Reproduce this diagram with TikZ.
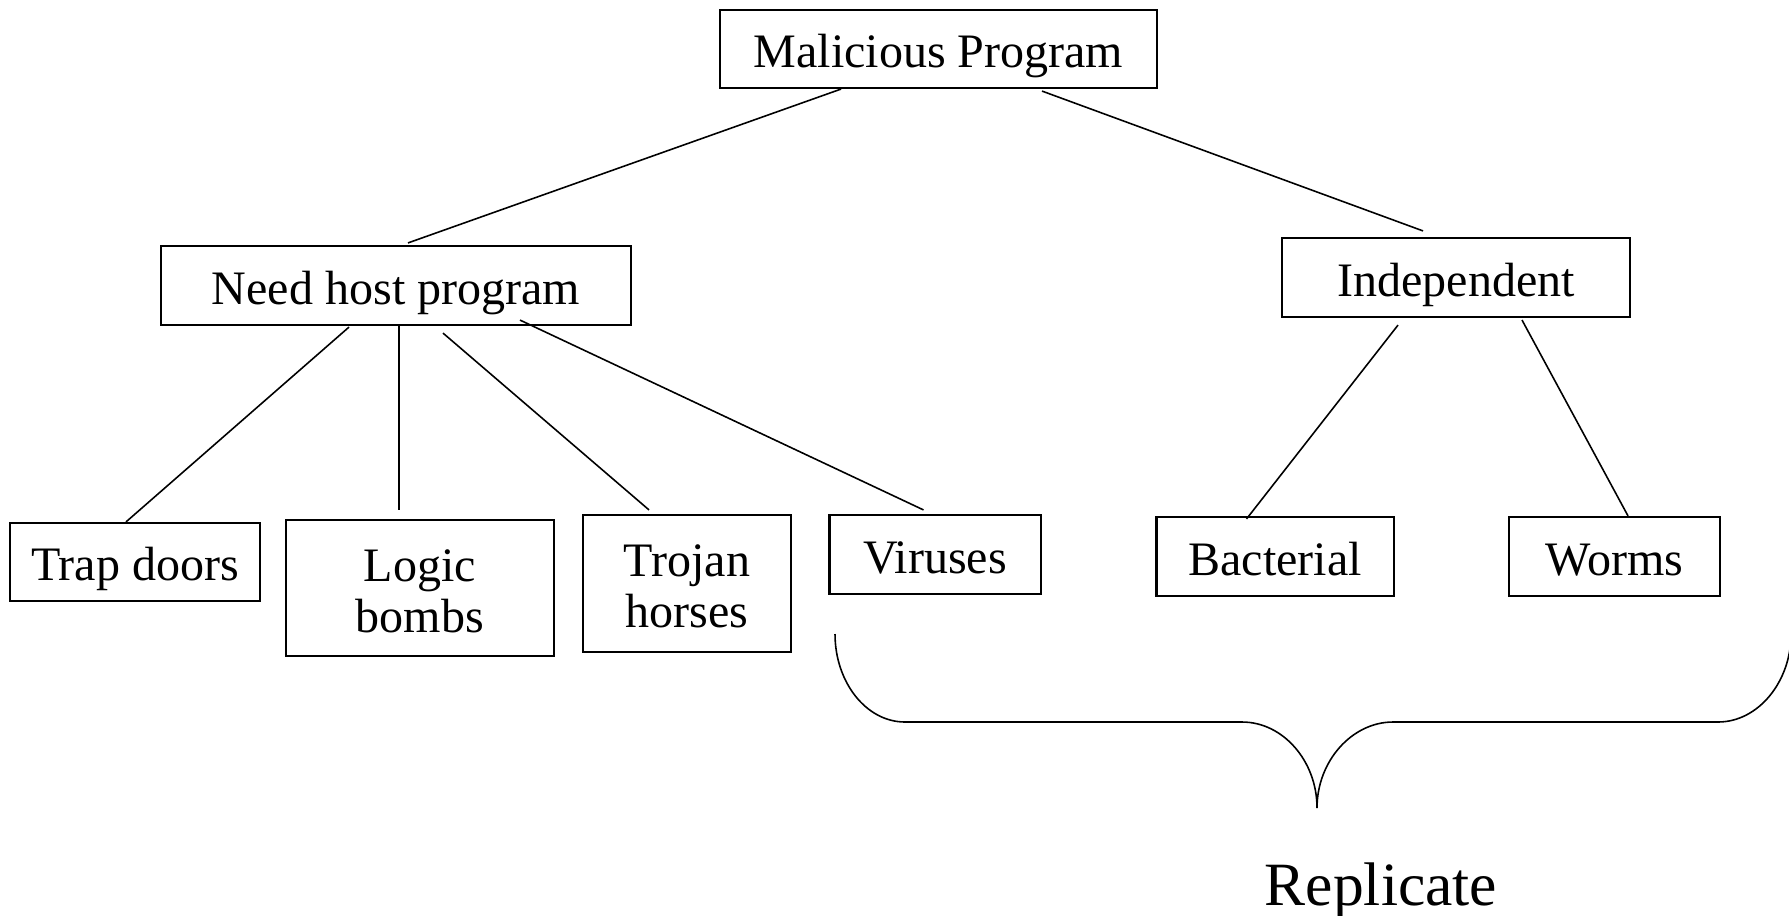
\documentclass[tikz,border=0pt]{standalone}
\usepackage{fontspec}
\setmainfont{Liberation Serif}
\usetikzlibrary{calc}
\begin{document}
\begin{tikzpicture}[x=0.01cm,y=-0.01cm,
  box/.style={draw,line width=0.6pt,inner sep=0pt,align=center,
    font=\fontsize{13.66pt}{14.5pt}\selectfont,
    text height=13.7pt,text depth=3.1pt},
  twoline/.style={text height=28.2pt,text depth=3.1pt},
  link/.style={line width=0.45pt},
  bigtext/.style={font=\fontsize{17.5pt}{20pt}\selectfont,inner sep=0pt,anchor=base}]
\fill[white] (0,0) rectangle (1789,915);
\useasboundingbox (0,0) rectangle (1789,915);

\node[box,minimum width=4.37cm,minimum height=0.78cm] (mp) at (938.5,49) {Malicious Program};
\node[box,minimum width=4.70cm,minimum height=0.79cm] (need) at (396,285.5) {Need host program};
\node[box,minimum width=3.48cm,minimum height=0.79cm] (ind) at (1456,277.5) {Independent};

\node[box,minimum width=2.50cm,minimum height=0.78cm] (trap) at (135,562) {Trap doors};
\node[box,twoline,minimum width=2.68cm,minimum height=1.36cm] (logic) at (420,588)
  {\begin{tabular}[b]{@{}c@{}}Logic\\bombs\end{tabular}};
\node[box,twoline,minimum width=2.08cm,minimum height=1.37cm] (trojan) at (687,583.5)
  {\begin{tabular}[b]{@{}c@{}}Trojan\\horses\end{tabular}};
\node[box,minimum width=2.11cm,minimum height=0.79cm] (virus) at (935,554.5) {Viruses};
\node[box,minimum width=2.37cm,minimum height=0.79cm] (bact) at (1275,556.5) {Bacterial};
\node[box,minimum width=2.11cm,minimum height=0.79cm] (worms) at (1614.5,556.5) {Worms};

\node[bigtext] (rep) at (1381,905) {Replicate};

% connectors
\draw[link] ($(mp.south)+(-97.5,0)$) -- ($(need.north)+(12,-2)$);
\draw[link] ($(mp.south)+(103.5,2)$) -- ($(ind.north)+(-33,-6)$);
\draw[link] ($(need.south)+(-47,1)$) -- ($(trap.north)+(-9,0)$);
\draw[link] ($(need.south)+(3,-1)$) -- ($(logic.north)+(-21,-9)$);
\draw[link] ($(need.south)+(47,7)$) -- ($(trojan.north)+(-38,-4)$);
\draw[link] ($(need.south)+(124,-6)$) -- ($(virus.north)+(-11.5,-4)$);
\draw[link] ($(ind.south)+(-58,7)$) -- ($(bact.north)+(-28.5,3)$);
\draw[link] ($(ind.south)+(66,2)$) -- ($(worms.north)+(13.5,0)$);

% brace
\draw[link] (835,634) .. controls (835,682) and (866,722) .. (905,722)
  -- (1242,722) .. controls (1283,722) and (1317,761) .. (1317,808)
  .. controls (1317,761) and (1352,722) .. (1393,722)
  -- (1718,722) .. controls (1758,722) and (1791,682) .. (1791,634);
\end{tikzpicture}
\end{document}
